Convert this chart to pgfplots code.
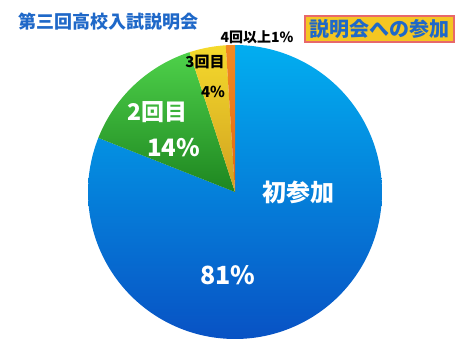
\documentclass[border=0pt]{standalone}
\usepackage{pgfplots}
\pgfplotsset{compat=1.18}
\usepackage{fontspec}
\newfontfamily\jp{Noto Sans CJK JP}
\definecolor{titleblue}{HTML}{1F68C8}
\definecolor{blueTop}{HTML}{02AEF0}
\definecolor{blueMid}{HTML}{0A8CE2}
\definecolor{blueBot}{HTML}{0852C4}
\definecolor{greenTop}{HTML}{4ED14A}
\definecolor{greenBot}{HTML}{1E8620}
\definecolor{yelTop}{HTML}{F5DA2C}
\definecolor{yelBot}{HTML}{D0A020}
\definecolor{oraTop}{HTML}{F28A22}
\definecolor{oraBot}{HTML}{E06612}
\definecolor{boxfill}{HTML}{F4C622}
\definecolor{boxdraw}{HTML}{E8686A}
% data (percent)
\def\pA{81}\def\pB{14}\def\pC{4}\def\pD{1}
\pgfmathsetmacro\aA{90}
\pgfmathsetmacro\aB{\aA-3.6*\pA}
\pgfmathsetmacro\aC{\aB-3.6*\pB}
\pgfmathsetmacro\aD{\aC-3.6*\pC}
\pgfmathsetmacro\aE{\aD-3.6*\pD}
\def\cx{235}\def\cy{161}\def\rr{147}
\begin{document}
\begin{tikzpicture}
\begin{axis}[width=470pt,height=353pt,scale only axis,
  xmin=0,xmax=470,ymin=0,ymax=353,hide axis,clip=false]
\addplot[draw=none,top color=blueTop,middle color=blueMid,bottom color=blueBot,domain=\aB:\aA,samples=200,variable=\t]
  ({\cx+\rr*cos(t)},{\cy+\rr*sin(t)}) -- (axis cs:\cx,\cy) -- cycle;
\addplot[draw=none,top color=greenTop,bottom color=greenBot,domain=\aC:\aB,samples=60,variable=\t]
  ({\cx+\rr*cos(t)},{\cy+\rr*sin(t)}) -- (axis cs:\cx,\cy) -- cycle;
\addplot[draw=none,top color=yelTop,bottom color=yelBot,domain=\aD:\aC,samples=30,variable=\t]
  ({\cx+\rr*cos(t)},{\cy+\rr*sin(t)}) -- (axis cs:\cx,\cy) -- cycle;
\addplot[draw=none,top color=oraTop,bottom color=oraBot,domain=\aE:\aD,samples=10,variable=\t]
  ({\cx+\rr*cos(t)},{\cy+\rr*sin(t)}) -- (axis cs:\cx,\cy) -- cycle;
% texts
\node[anchor=west,inner sep=0pt,text=titleblue,font=\jp\bfseries\fontsize{18}{18}\selectfont] at (axis cs:18,331) {第三回高校入試説明会};
\node[fill=boxfill,draw=boxdraw,line width=1.2pt,inner sep=0pt,minimum width=149pt,minimum height=26pt,text=titleblue,font=\jp\bfseries\fontsize{20}{20}\selectfont] at (axis cs:379.5,324) {説明会への参加};
\node[inner sep=0pt,font=\jp\bfseries\fontsize{14}{14}\selectfont] at (axis cs:257,316) {4回以上1\%};
\node[inner sep=0pt,font=\jp\bfseries\fontsize{15}{15}\selectfont] at (axis cs:205,291) {3回目};
\node[inner sep=0pt,font=\jp\bfseries\fontsize{15}{15}\selectfont] at (axis cs:213,261) {4\%};
\node[inner sep=0pt,text=white,font=\jp\bfseries\fontsize{23}{23}\selectfont] at (axis cs:157.5,241) {2回目};
\node[inner sep=0pt,text=white,font=\jp\bfseries\fontsize{24}{24}\selectfont] at (axis cs:173.5,205) {14\%};
\node[inner sep=0pt,text=white,font=\jp\bfseries\fontsize{24}{24}\selectfont] at (axis cs:298.5,161) {初参加};
\node[inner sep=0pt,text=white,font=\jp\bfseries\fontsize{25}{25}\selectfont] at (axis cs:228,78) {81\%};
\end{axis}
\pgfresetboundingbox
\path (current axis.south west) rectangle (current axis.north east);
\end{tikzpicture}
\end{document}
